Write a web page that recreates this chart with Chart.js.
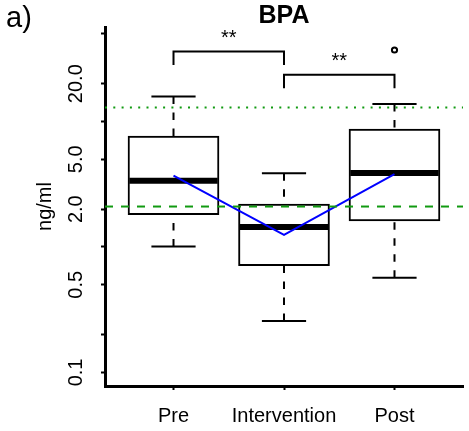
<!DOCTYPE html>
<html>
<head>
<meta charset="utf-8">
<title>BPA</title>
<script src="https://cdn.jsdelivr.net/npm/chart.js@4.4.1/dist/chart.umd.min.js"></script>
<style>
    html, body { margin: 0; padding: 0; background: #fff; }
    #wrap { width: 469px; height: 431px; }
</style>
</head>
<body>
<div id="wrap"><canvas id="bpaChart" width="469" height="431"></canvas></div>
<script>
// BPA boxplot (ng/ml, log axis) for the three study phases
// Chart.js has no boxplot type, so the boxes are floating bars and
// the whiskers, medians, reference lines and brackets come from a plugin
// that reads positions off the chart's own scales

const phases = ['Pre', 'Intervention', 'Post'];
const whiskerLow = [1.01, 0.257, 0.569];
const boxLow = [1.81, 0.71, 1.61];
const medians = [3.37, 1.44, 3.89];
const boxHigh = [7.66, 2.2, 8.71];
const whiskerHigh = [15.8, 3.87, 13.8];
const outlierValues = [[], [], [37.1]];
const geoMeans = [3.7, 1.25, 3.8];

// green reference lines (dashed, dotted)
const refDashed = 2.1;
const refDotted = 12.9;

const yTickValues = [0.1, 0.2, 0.5, 1, 2, 5, 10, 20, 50];
const yTickLabels = ['0.1', '', '0.5', '', '2.0', '5.0', '', '20.0', ''];

// significance brackets between phases
const bracketFrom = [1, 2];
const bracketTo = [2, 3];
const bracketTop = [36.1, 23.6];
const bracketLeg = [28.2, 18.4];
const bracketText = ['**', '**'];

const panelLabel = 'a)';

const FONT = "'Liberation Sans', Arial, Helvetica, sans-serif";
const GREEN = '#119a11';
const BOX_WIDTH = 0.8; // in x units, like R's boxwex

function strokeLine(ctx, x1, y1, x2, y2) {
    ctx.beginPath();
    ctx.moveTo(x1, y1);
    ctx.lineTo(x2, y2);
    ctx.stroke();
}

const boxPlotExtras = {
    id: 'boxPlotExtras',
    // whiskers + medians right after the boxes, before the mean line
    afterDatasetDraw(chart, args) {
        if (args.meta.type !== 'bar') return;
        const ctx = chart.ctx;
        const x = chart.scales.x;
        const y = chart.scales.y;
        ctx.save();
        ctx.strokeStyle = '#000';
        ctx.lineCap = 'butt';
        phases.forEach((p, i) => {
            const cx = x.getPixelForValue(i + 1);
            const half = x.getPixelForValue(i + 1 + BOX_WIDTH / 2) - cx;

            // dashed whiskers, drawn from the whisker end towards the box
            ctx.lineWidth = 2;
            ctx.setLineDash([7.5, 8.5]);
            strokeLine(ctx, cx, y.getPixelForValue(whiskerHigh[i]), cx, y.getPixelForValue(boxHigh[i]));
            strokeLine(ctx, cx, y.getPixelForValue(whiskerLow[i]), cx, y.getPixelForValue(boxLow[i]));
            ctx.setLineDash([]);

            // caps are half as wide as the box
            strokeLine(ctx, cx - half / 2, y.getPixelForValue(whiskerHigh[i]), cx + half / 2, y.getPixelForValue(whiskerHigh[i]));
            strokeLine(ctx, cx - half / 2, y.getPixelForValue(whiskerLow[i]), cx + half / 2, y.getPixelForValue(whiskerLow[i]));

            // thick median
            ctx.lineWidth = 6;
            const ym = y.getPixelForValue(medians[i]);
            strokeLine(ctx, cx - half, ym, cx + half, ym);
        });
        ctx.restore();
    },
    afterDatasetsDraw(chart) {
        const ctx = chart.ctx;
        const x = chart.scales.x;
        const y = chart.scales.y;
        const area = chart.chartArea;
        ctx.save();

        // reference lines
        ctx.strokeStyle = GREEN;
        ctx.lineWidth = 2;
        ctx.setLineDash([8, 8]);
        strokeLine(ctx, area.left, y.getPixelForValue(refDashed), area.right, y.getPixelForValue(refDashed));
        ctx.setLineDash([2, 6.3]);
        strokeLine(ctx, area.left, y.getPixelForValue(refDotted), area.right, y.getPixelForValue(refDotted));
        ctx.setLineDash([]);

        // brackets with stars
        ctx.strokeStyle = '#000';
        ctx.fillStyle = '#000';
        ctx.lineWidth = 2;
        ctx.font = '20px ' + FONT;
        ctx.textAlign = 'center';
        ctx.textBaseline = 'alphabetic';
        bracketText.forEach((t, i) => {
            const x1 = x.getPixelForValue(bracketFrom[i]);
            const x2 = x.getPixelForValue(bracketTo[i]);
            const yTop = y.getPixelForValue(bracketTop[i]);
            const yLeg = y.getPixelForValue(bracketLeg[i]);
            ctx.beginPath();
            ctx.moveTo(x1, yLeg);
            ctx.lineTo(x1, yTop);
            ctx.lineTo(x2, yTop);
            ctx.lineTo(x2, yLeg);
            ctx.stroke();
            ctx.fillText(t, (x1 + x2) / 2, yTop - 7.5);
        });
        ctx.restore();
    },
    afterDraw(chart) {
        const ctx = chart.ctx;
        ctx.save();
        ctx.fillStyle = '#000';
        ctx.font = '29px ' + FONT;
        ctx.textAlign = 'left';
        ctx.textBaseline = 'alphabetic';
        ctx.fillText(panelLabel, 6, 27);
        ctx.restore();
    }
};

const axisGrid = { drawOnChartArea: false, drawTicks: true, tickLength: 4, tickWidth: 2, tickColor: '#000', offset: false };
const axisBorder = { display: true, width: 3, color: '#000' };

new Chart(document.getElementById('bpaChart'), {
    type: 'bar',
    data: {
        datasets: [
            {
                type: 'bar',
                data: phases.map((p, i) => ({ x: i + 1, y: [boxLow[i], boxHigh[i]] })),
                backgroundColor: '#fff',
                borderColor: '#000',
                borderWidth: 2,
                borderSkipped: false,
                barThickness: 91,
                order: 3
            },
            {
                type: 'line',
                data: geoMeans.map((v, i) => ({ x: i + 1, y: v })),
                borderColor: '#0000ff',
                borderWidth: 2,
                pointRadius: 0,
                fill: false,
                tension: 0,
                order: 2
            },
            {
                type: 'scatter',
                data: outlierValues.flatMap((vals, i) => vals.map(v => ({ x: i + 1, y: v }))),
                pointStyle: 'circle',
                pointRadius: 2.6,
                borderWidth: 2,
                borderColor: '#000',
                backgroundColor: 'rgba(0,0,0,0)',
                order: 1
            }
        ]
    },
    options: {
        responsive: false,
        animation: false,
        layout: { padding: { left: 0, right: 4, top: 0, bottom: 0 } },
        plugins: {
            legend: { display: false },
            tooltip: { enabled: false },
            title: {
                display: true,
                text: 'BPA',
                fullSize: false,
                color: '#000',
                font: { family: FONT, size: 25, weight: 'bold', lineHeight: 1 },
                padding: { top: 4, bottom: -2 }
            }
        },
        scales: {
            x: {
                type: 'linear',
                min: 0.38,
                max: 3.62,
                offset: false,
                afterBuildTicks: (scale) => { scale.ticks = phases.map((p, i) => ({ value: i + 1 })); },
                afterFit: (scale) => { scale.height = 45; },
                grid: axisGrid,
                border: axisBorder,
                ticks: {
                    color: '#000',
                    font: { family: FONT, size: 20 },
                    padding: 14,
                    autoSkip: false,
                    maxRotation: 0,
                    callback: (value) => phases[value - 1] ?? ''
                }
            },
            y: {
                type: 'logarithmic',
                min: 0.078,
                max: 56.6,
                afterBuildTicks: (scale) => { scale.ticks = yTickValues.map(v => ({ value: v })); },
                afterFit: (scale) => { scale.width = 105; },
                grid: axisGrid,
                border: axisBorder,
                ticks: {
                    color: '#000',
                    font: { family: FONT, size: 20 },
                    padding: 5.5,
                    minRotation: 90,
                    maxRotation: 90,
                    crossAlign: 'center',
                    autoSkip: false,
                    callback: (value, index) => yTickLabels[index]
                },
                title: {
                    display: true,
                    text: 'ng/ml',
                    color: '#000',
                    font: { family: FONT, size: 20 },
                    padding: { top: 33, bottom: 0 }
                }
            }
        }
    },
    plugins: [boxPlotExtras]
});
</script>
</body>
</html>
